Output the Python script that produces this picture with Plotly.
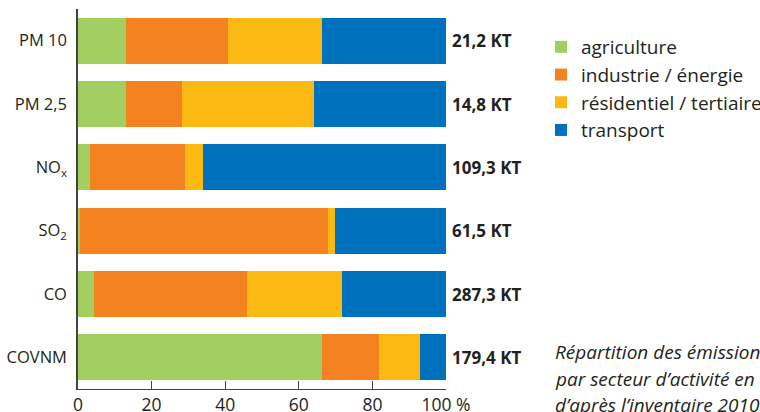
import plotly.graph_objects as go

categories = ["PM 10", "PM 2,5", "NO<sub>x</sub>", "SO<sub>2</sub>", "CO", "COVNM"]
sectors = ["agriculture", "industrie / énergie", "résidentiel / tertiaire", "transport"]
agriculture = [13.0, 13.0, 3.3, 0.5, 4.3, 66.3]
industrie = [27.8, 15.3, 25.8, 67.4, 41.6, 15.5]
residentiel = [25.5, 35.8, 4.9, 1.9, 25.8, 11.1]
transport = [33.7, 35.9, 66.0, 30.2, 28.3, 7.1]
totals = ["21,2 KT", "14,8 KT", "109,3 KT", "61,5 KT", "287,3 KT", "179,4 KT"]
tick_vals = [0, 20, 40, 60, 80, 100]
tick_text = ["0", "20", "40", "60", "80", "100 %"]
caption = ["Répartition des émissions de polluants",
           "par secteur d’activité en Île-de-France",
           "d’après l’inventaire 2010"]

colors = ["#A3CF62", "#F58220", "#FDB913", "#0071BC"]
FONT = "Open Sans"
TXT = "#231F20"

fig = go.Figure()
for name, vals, col in zip(sectors, [agriculture, industrie, residentiel, transport], colors):
    fig.add_trace(go.Bar(y=categories, x=vals, name=name, orientation="h",
                         marker=dict(color=col, line=dict(width=0)), width=0.725))

for cat, t in zip(categories, totals):
    fig.add_annotation(x=100, y=cat, text="<b>" + t + "</b>", xanchor="left", xshift=4,
                       showarrow=False, font=dict(family=FONT, size=17, color=TXT))

cap_y = [352, 379, 405]
for line, yy in zip(caption, cap_y):
    fig.add_annotation(xref="paper", yref="paper", x=(553 - 78) / 368,
                       y=(412 - 23 - yy) / 380, text="<i>" + line + "</i>",
                       xanchor="left", yanchor="middle", showarrow=False, align="left",
                       font=dict(family=FONT, size=19, color=TXT))

fig.update_layout(
    width=760, height=412, barmode="stack", bargap=0,
    margin=dict(l=78, r=314, t=9, b=23, autoexpand=False),
    paper_bgcolor="white", plot_bgcolor="white",
    font=dict(family=FONT, size=16, color=TXT),
    legend=dict(x=(541 - 78) / 368, y=(412 - 23 - 28) / 380, xanchor="left", yanchor="top",
                font=dict(family=FONT, size=19, color=TXT), traceorder="normal",
                bgcolor="rgba(0,0,0,0)", itemwidth=30, tracegroupgap=0),
    xaxis=dict(range=[0, 100], tickvals=tick_vals, ticktext=tick_text, showgrid=False,
               zeroline=False, showline=True, linecolor="#444", linewidth=1.2,
               ticks="inside", ticklen=8, tickcolor="#444", tickwidth=1.2,
               tickfont=dict(family=FONT, size=17.5, color=TXT)),
    yaxis=dict(autorange="reversed", showgrid=False, zeroline=False, showline=True,
               linecolor="#444", linewidth=1.5, ticks="", ticklabelstandoff=6,
               tickfont=dict(family=FONT, size=16.5, color=TXT)),
)
fig.write_html("out.html")
